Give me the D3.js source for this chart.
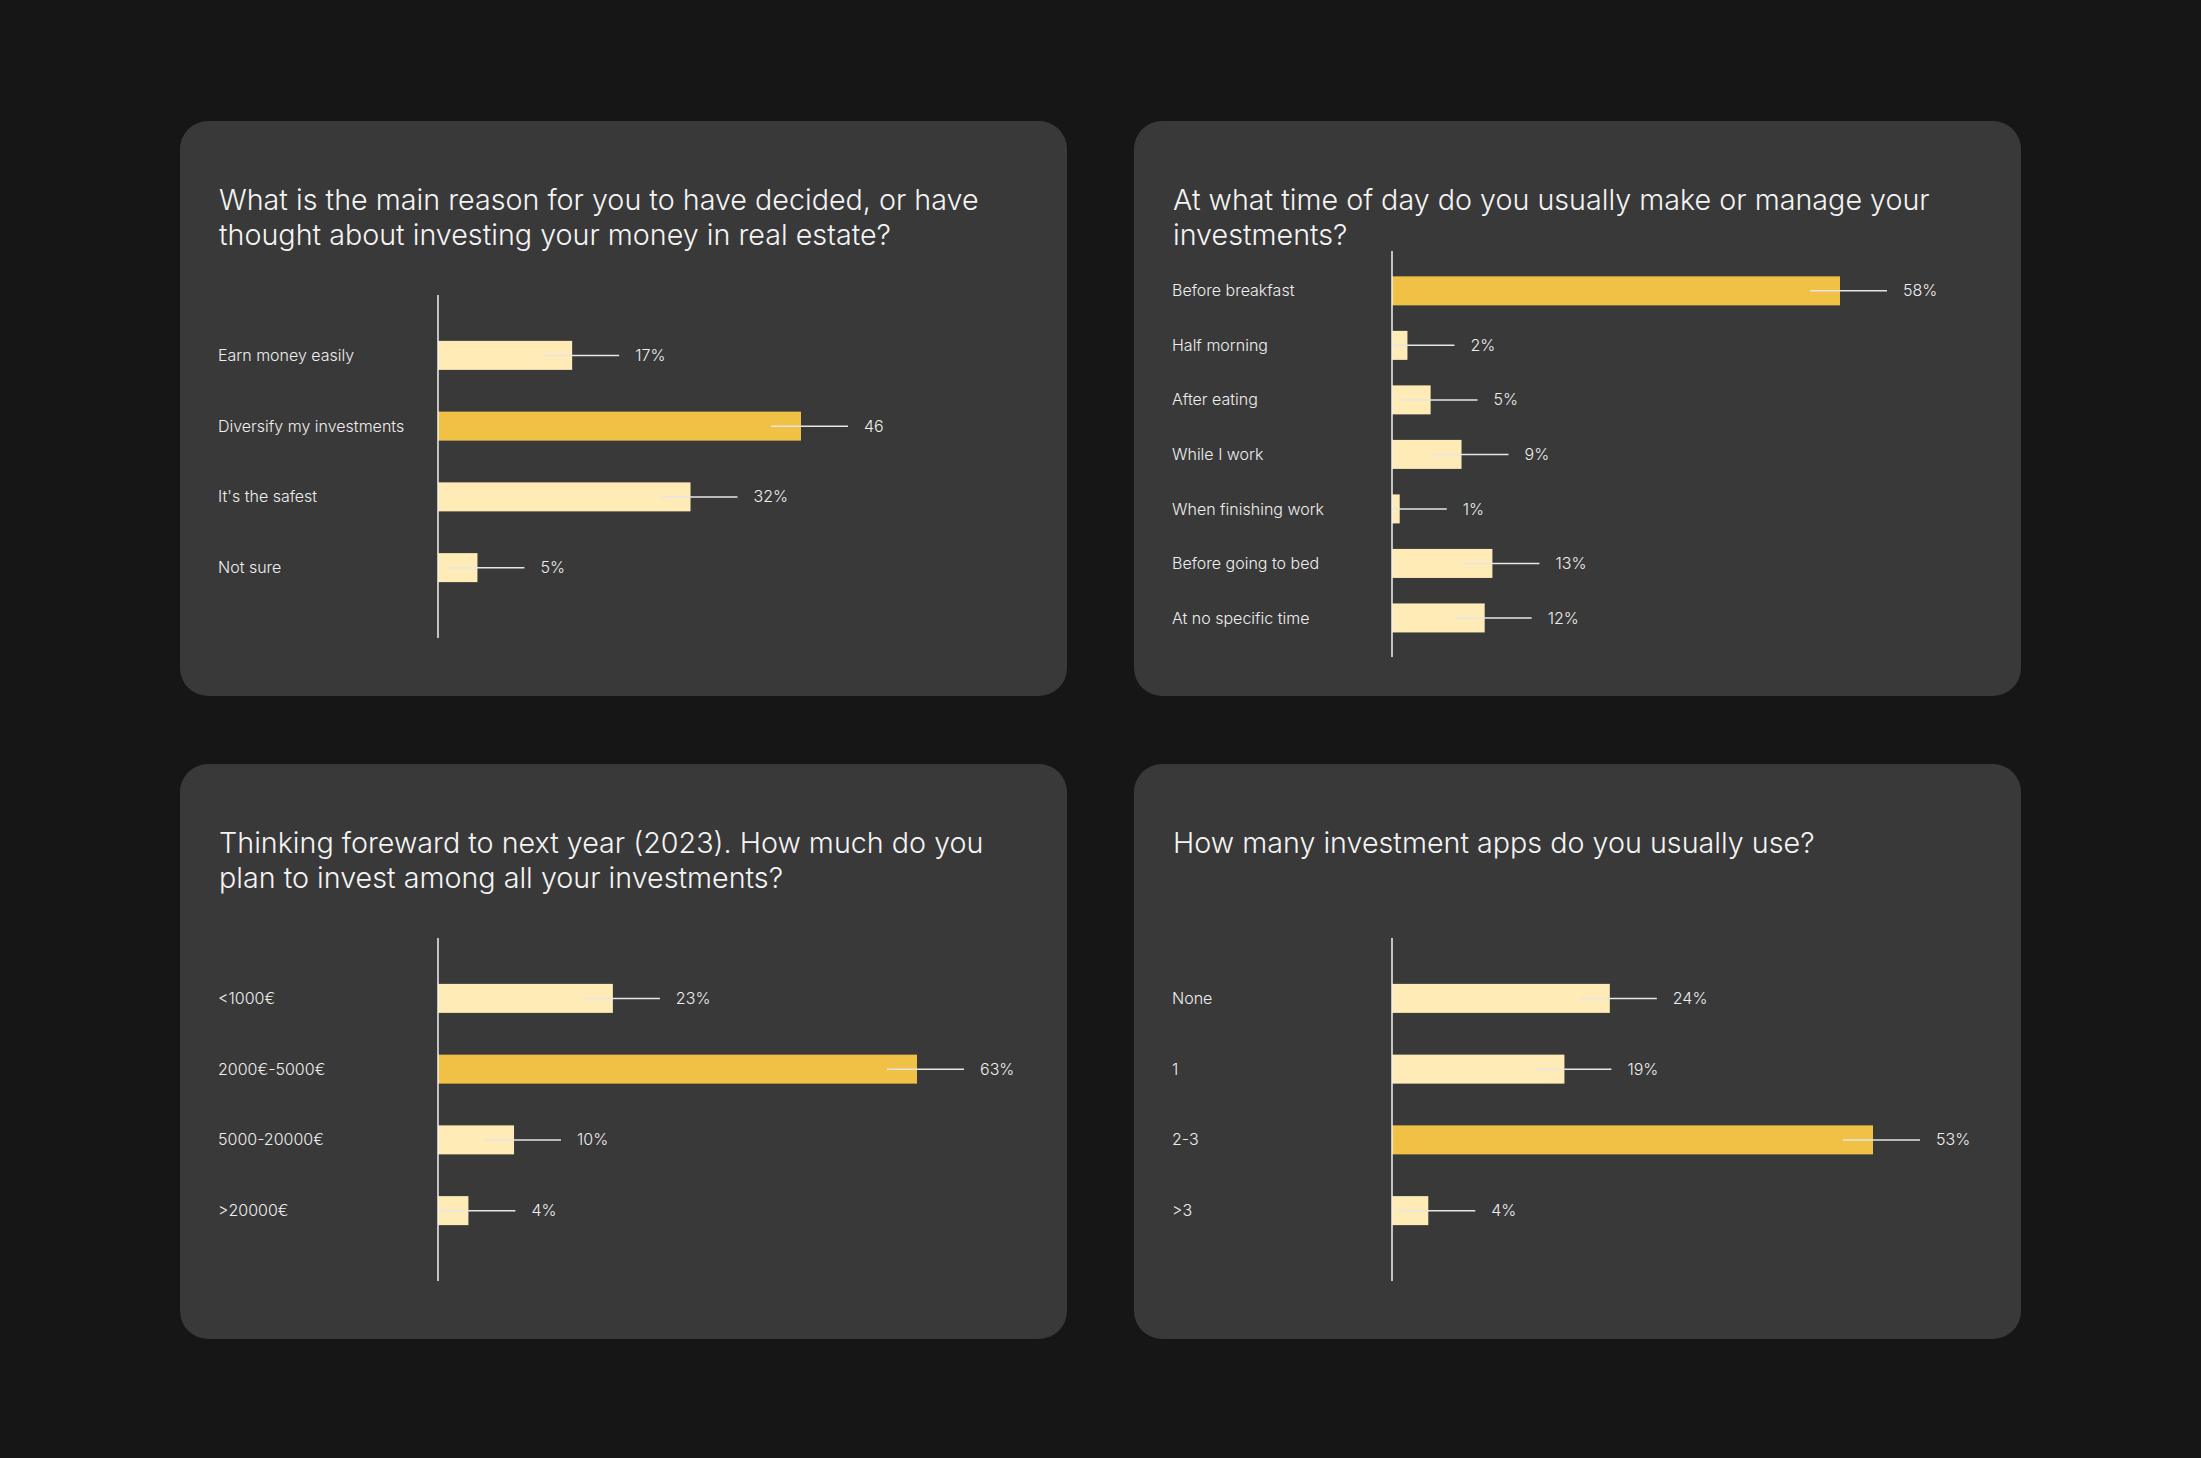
<!DOCTYPE html>
<html>
<head>
  <meta charset="utf-8">
  <title>Investment survey</title>
  <script src="https://cdn.jsdelivr.net/npm/d3@7"></script>
  <style>
    html, body { margin: 0; padding: 0; background: #161616; }
    svg { display: block; }
  </style>
</head>
<body>
<script>
  "use strict";

  // survey answers
  var reasonCats = ["Earn money easily", "Diversify my investments", "It's the safest", "Not sure"];
  var reasonVals = [17, 46, 32, 5];
  var reasonLabels = ["17%", "46", "32%", "5%"];

  var timeCats = ["Before breakfast", "Half morning", "After eating", "While I work",
                  "When finishing work", "Before going to bed", "At no specific time"];
  var timeVals = [58, 2, 5, 9, 1, 13, 12];
  var timeLabels = ["58%", "2%", "5%", "9%", "1%", "13%", "12%"];

  var planCats = ["<1000€", "2000€-5000€", "5000-20000€", ">20000€"];
  var planVals = [23, 63, 10, 4];
  var planLabels = ["23%", "63%", "10%", "4%"];

  var appsCats = ["None", "1", "2-3", ">3"];
  var appsVals = [24, 19, 53, 4];
  var appsLabels = ["24%", "19%", "53%", "4%"];

  var width = 2201, height = 1458;
  var panelW = 887, panelH = 575;
  var axisX = 258, barH = 29;

  var panels = [
    { x: 180, y: 121, cats: reasonCats, vals: reasonVals, labels: reasonLabels,
      title: ["What is the main reason for you to have decided, or have",
              "thought about investing your money in real estate?"],
      band: [199, 482], axis: [174, 517], maxW: 363 },
    { x: 1134, y: 121, cats: timeCats, vals: timeVals, labels: timeLabels,
      title: ["At what time of day do you usually make or manage your",
              "investments?"],
      band: [142.6, 524.2], axis: [130, 536], maxW: 448 },
    { x: 180, y: 764, cats: planCats, vals: planVals, labels: planLabels,
      title: ["Thinking foreward to next year (2023). How much do you",
              "plan to invest among all your investments?"],
      band: [199, 482], axis: [174, 517], maxW: 479 },
    { x: 1134, y: 764, cats: appsCats, vals: appsVals, labels: appsLabels,
      title: ["How many investment apps do you usually use?"],
      band: [199, 482], axis: [174, 517], maxW: 481 }
  ];

  var svg = d3.select("body").append("svg")
      .attr("width", width)
      .attr("height", height);

  svg.append("rect")
      .attr("width", width)
      .attr("height", height)
      .attr("fill", "#161616");

  panels.forEach(function (p) {
    var g = svg.append("g").attr("transform", "translate(" + p.x + "," + p.y + ")");

    g.append("rect")
        .attr("width", panelW)
        .attr("height", panelH)
        .attr("rx", 28)
        .attr("fill", "#393939");

    // title
    g.append("text")
        .attr("x", 39)
        .attr("y", 89)
        .style("font-family", "Inter")
        .style("font-size", "28.7px")
        .style("font-weight", 300)
        .style("fill", "#f4f4f4")
        .selectAll("tspan")
        .data(p.title)
        .enter()
        .append("tspan")
          .attr("x", 39)
          .attr("dy", function (d, i) { return i === 0 ? 0 : 34.5; })
          .text(function (d) { return d; });

    var step = (p.band[1] - p.band[0]) / p.cats.length;
    var pad = 1 - barH / step;

    var y = d3.scaleBand()
        .domain(p.cats)
        .range(p.band)
        .paddingInner(pad)
        .paddingOuter(pad / 2);

    var x = d3.scaleLinear()
        .domain([0, d3.max(p.vals)])
        .range([axisX, axisX + p.maxW]);

    var rows = p.cats.map(function (c, i) {
      return { cat: c, val: p.vals[i], label: p.labels[i] };
    });
    var top = d3.max(p.vals);

    // category labels through a d3 axis, left aligned at the panel margin
    var ax = g.append("g")
        .attr("transform", "translate(" + axisX + ",0)")
        .call(d3.axisLeft(y).tickSize(0).tickSizeOuter(0));
    ax.select(".domain").remove();
    ax.selectAll("text")
        .attr("x", 38 - axisX)
        .attr("dy", "0.35em")
        .attr("text-anchor", "start")
        .style("font-family", "Inter")
        .style("font-size", "16px")
        .style("font-weight", 350)
        .style("fill", "#eeeeee");

    g.selectAll(".bar")
        .data(rows)
        .enter()
        .append("rect")
          .attr("class", "bar")
          .attr("x", x(0))
          .attr("y", function (d) { return y(d.cat); })
          .attr("width", function (d) { return x(d.val) - x(0); })
          .attr("height", y.bandwidth())
          .attr("fill", function (d) { return d.val === top ? "#f0c145" : "#ffebb6"; });

    // leader lines
    g.selectAll(".lead")
        .data(rows)
        .enter()
        .append("line")
          .attr("class", "lead")
          .attr("x1", function (d) { return Math.max(x(0), x(d.val) - 30); })
          .attr("x2", function (d) { return x(d.val) + 47; })
          .attr("y1", function (d) { return y(d.cat) + y.bandwidth() / 2; })
          .attr("y2", function (d) { return y(d.cat) + y.bandwidth() / 2; })
          .attr("stroke", "#e6e6e6")
          .attr("stroke-width", 1.5);

    g.selectAll(".val")
        .data(rows)
        .enter()
        .append("text")
          .attr("class", "val")
          .attr("x", function (d) { return x(d.val) + 63; })
          .attr("y", function (d) { return y(d.cat) + y.bandwidth() / 2; })
          .attr("dy", "0.35em")
          .style("font-family", "Inter")
          .style("font-size", "16px")
          .style("font-weight", 350)
          .style("fill", "#eeeeee")
          .text(function (d) { return d.label; });

    // vertical axis line
    g.append("line")
        .attr("x1", axisX).attr("x2", axisX)
        .attr("y1", p.axis[0]).attr("y2", p.axis[1])
        .attr("stroke", "#f2f2f2")
        .attr("stroke-width", 1.5);
  });
</script>
</body>
</html>
